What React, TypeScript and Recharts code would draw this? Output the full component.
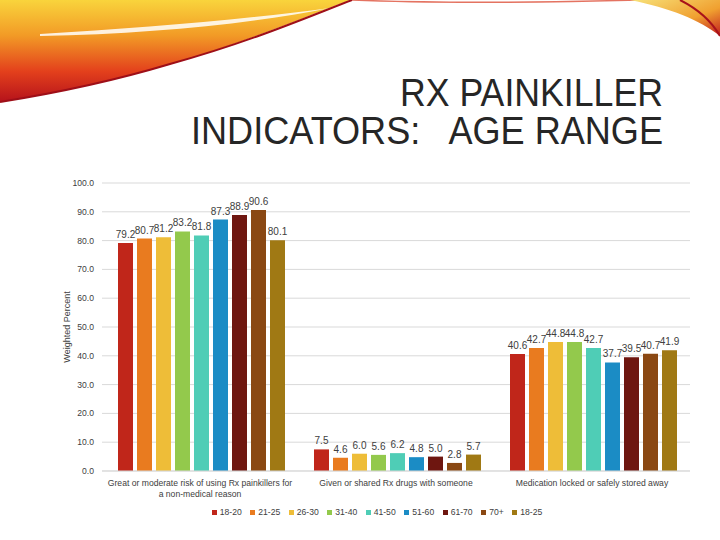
import { BarChart, Bar, XAxis, YAxis, CartesianGrid, Legend, LabelList } from "recharts";

const categories = [
  "Great or moderate risk of using Rx painkillers for a non-medical reason",
  "Given or shared Rx drugs with someone",
  "Medication locked or safely stored away",
];

const ageGroups = ["18-20", "21-25", "26-30", "31-40", "41-50", "51-60", "61-70", "70+", "18-25"];
const colors = ["#c0261a", "#e97b1f", "#eebd38", "#93c94c", "#4fcdb6", "#1b8cc5", "#6e1610", "#8a4813", "#a07914"];

const age18to20 = [79.2, 7.5, 40.6];
const age21to25 = [80.7, 4.6, 42.7];
const age26to30 = [81.2, 6.0, 44.8];
const age31to40 = [83.2, 5.6, 44.8];
const age41to50 = [81.8, 6.2, 42.7];
const age51to60 = [87.3, 4.8, 37.7];
const age61to70 = [88.9, 5.0, 39.5];
const age70plus = [90.6, 2.8, 40.7];
const age18to25 = [80.1, 5.7, 41.9];

const yTicks = [0, 10, 20, 30, 40, 50, 60, 70, 80, 90, 100];

const seriesValues = [age18to20, age21to25, age26to30, age31to40, age41to50, age51to60, age61to70, age70plus, age18to25];

const data = categories.map((name, i) => {
  const row: any = { name };
  ageGroups.forEach((g, j) => (row[g] = seriesValues[j][i]));
  return row;
});

const font = "'Liberation Sans', Arial, sans-serif";

// wrap on words, about 50 chars a line
function wrap(text: string, max: number) {
  const lines: string[] = [];
  let cur = "";
  text.split(" ").forEach((w) => {
    const next = cur ? cur + " " + w : w;
    if (next.length > max && cur) {
      lines.push(cur);
      cur = w;
    } else cur = next;
  });
  if (cur) lines.push(cur);
  return lines;
}

function CategoryTick(props: any) {
  const { x, y, payload } = props;
  const lines = wrap(payload.value, 50);
  return (
    <text x={x} y={y + 7} textAnchor="middle" fontSize={8.6} fontFamily={font} fill="#404040">
      {lines.map((l, i) => (
        <tspan key={i} x={x} dy={i === 0 ? 0 : 10.5}>
          {l}
        </tspan>
      ))}
    </text>
  );
}

function LegendRow(props: any) {
  // keep the series order, not alphabetical
  const items = [...props.payload].sort((a: any, b: any) => ageGroups.indexOf(a.value) - ageGroups.indexOf(b.value));
  return (
    <div style={{ display: "flex", justifyContent: "center", gap: 8.5, fontFamily: font, fontSize: 8.6, color: "#404040" }}>
      {items.map((p: any) => (
        <div key={p.value} style={{ display: "flex", alignItems: "center", gap: 3 }}>
          <span style={{ width: 5, height: 5, background: p.color, display: "inline-block" }} />
          <span>{p.value}</span>
        </div>
      ))}
    </div>
  );
}

function Swoosh() {
  return (
    <svg width={720} height={120} style={{ position: "absolute", left: 0, top: 0 }}>
      <defs>
        <linearGradient id="sw" x1="0" y1="0" x2="0" y2="1">
          <stop offset="0%" stopColor="#f9d43c" />
          <stop offset="35%" stopColor="#f29a26" />
          <stop offset="70%" stopColor="#e3401c" />
          <stop offset="100%" stopColor="#b5121b" />
        </linearGradient>
        <linearGradient id="sw2" x1="0" y1="0" x2="1" y2="1">
          <stop offset="0%" stopColor="#f7e27a" />
          <stop offset="60%" stopColor="#f0a030" />
          <stop offset="100%" stopColor="#c21d1d" />
        </linearGradient>
      </defs>
      <path d="M0,0 L350,0 C310,15 240,45 150,70 C90,86 40,96 0,102 Z" fill="url(#sw)" />
      <path d="M40,34 C140,28 240,20 330,8 C250,24 150,34 40,36 Z" fill="#ffffff" opacity={0.85} />
      <path d="M0,102 C50,94 110,82 170,64 C250,42 310,16 352,0" fill="none" stroke="#9e0f18" strokeWidth={2} />
      <path d="M352,0 C450,4 560,2 640,0" fill="none" stroke="#d8381e" strokeWidth={1.5} opacity={0.7} />
      <path d="M630,0 L720,0 L720,36 C700,20 670,8 630,0 Z" fill="url(#sw2)" />
      <path d="M680,0 C700,10 712,22 720,36" fill="none" stroke="#a8121b" strokeWidth={2} />
    </svg>
  );
}

function Title() {
  return (
    <svg width={720} height={160} style={{ position: "absolute", left: 0, top: 0 }}>
      <text x={400} y={106} textLength={263} lengthAdjust="spacingAndGlyphs" fontSize={38} fontFamily={font} fill="#262626">
        RX PAINKILLER
      </text>
      <text x={191} y={144} textLength={472} lengthAdjust="spacingAndGlyphs" fontSize={38} fontFamily={font} fill="#262626" xmlSpace="preserve">
        INDICATORS:   AGE RANGE
      </text>
    </svg>
  );
}

export default function App() {
  return (
    <div style={{ position: "absolute", left: 0, top: 0, width: 720, height: 540, background: "#ffffff", overflow: "hidden" }}>
      <Swoosh />
      <Title />
      <div style={{ position: "absolute", left: 0, top: 0 }}>
        <BarChart
          width={720}
          height={540}
          data={data}
          margin={{ top: 183, right: 30, left: 0, bottom: 0 }}
          barGap={4}
          barCategoryGap={16}
        >
          <CartesianGrid vertical={false} stroke="#d9d9d9" />
          <XAxis
            dataKey="name"
            height={40}
            axisLine={{ stroke: "#d9d9d9" }}
            tickLine={false}
            tick={<CategoryTick />}
            interval={0}
          />
          <YAxis
            width={102}
            domain={[0, 100]}
            ticks={yTicks}
            axisLine={false}
            tickLine={false}
            tickFormatter={(v: number) => v.toFixed(1)}
            tick={{ fontSize: 8.6, fill: "#404040", fontFamily: font }}
            label={{
              value: "Weighted Percent",
              angle: -90,
              position: "insideLeft",
              offset: 67,
              style: { fontSize: 9, fill: "#404040", fontFamily: font, textAnchor: "middle" },
            }}
          />
          <Legend
            verticalAlign="bottom"
            height={29}
            wrapperStyle={{ top: 507, bottom: "auto", left: 32 }}
            content={<LegendRow />}
          />
          {ageGroups.map((g, i) => (
            <Bar key={g} dataKey={g} fill={colors[i]} isAnimationActive={false}>
              <LabelList
                dataKey={g}
                position="top"
                offset={5}
                formatter={(v: any) => Number(v).toFixed(1)}
                style={{ fontSize: 10, fill: "#404040", fontFamily: font }}
              />
            </Bar>
          ))}
        </BarChart>
      </div>
    </div>
  );
}
